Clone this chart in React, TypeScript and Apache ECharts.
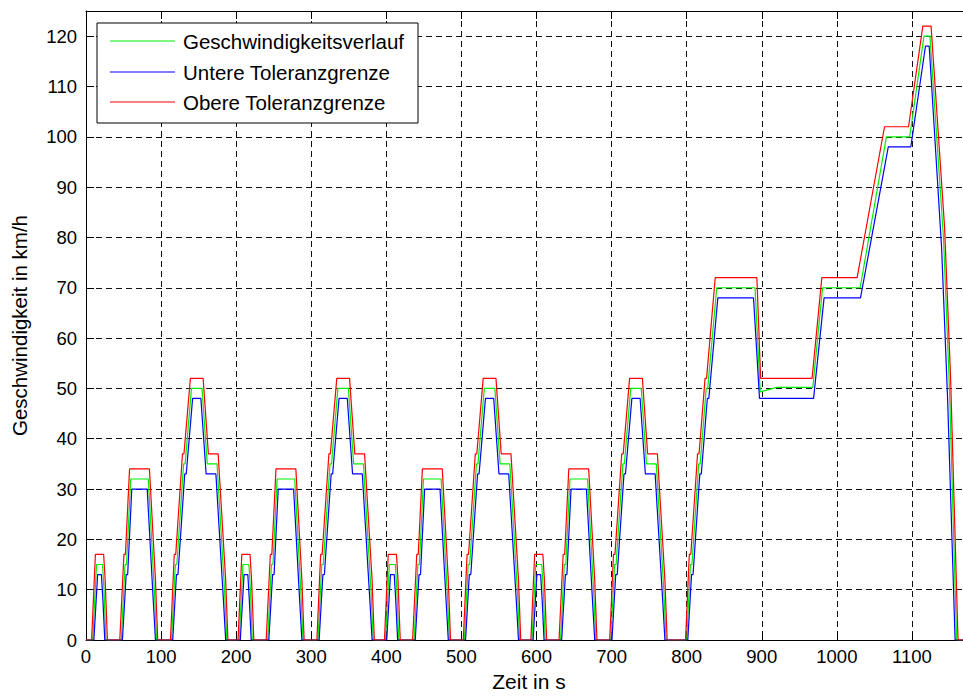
import React, { useEffect, useRef } from "react";
import * as echarts from "echarts";

// ---- One ECE-15 urban cycle (times relative to cycle start, s ; speeds km/h)
const eceTimeSpeed = [0, 9, 14, 22, 24, 26.5, 47, 52, 54, 59.5, 83, 91, 94, 114, 119, 121, 130, 132, 140.5, 154.5, 161.5, 174.5, 184.5, 187.5, 195];
const eceSpeed = [0, 0, 15, 15, 10, 0, 0, 15, 15, 32, 32, 10, 0, 0, 15, 15, 35, 35, 50, 50, 35, 35, 10, 0, 0];

const eceTimeUpper = [0, 7.5, 12.5, 23.5, 25.5, 28.5, 45, 50.5, 52.5, 58, 84.5, 92.5, 95.5, 112.5, 117.5, 119.5, 128.5, 130.5, 139, 156, 163, 176, 186, 189, 195];
const eceUpper = [0, 0, 17, 17, 12, 0, 0, 17, 17, 34, 34, 12, 0, 0, 17, 17, 37, 37, 52, 52, 37, 37, 12, 0, 0];

const eceTimeLower = [0, 10.5, 15.5, 20.5, 22.5, 25, 48.5, 53.5, 55.5, 61, 81.5, 89.5, 92.5, 115.5, 120.5, 122.5, 131.5, 133.5, 142, 153, 160, 173, 183, 186, 195];
const eceLower = [0, 0, 13, 13, 8, 0, 0, 13, 13, 30, 30, 8, 0, 0, 13, 13, 33, 33, 48, 48, 33, 33, 8, 0, 0];

// start times of the four urban cycles
const eceStarts = [0, 195, 390, 585];

// ---- Extra-urban part (absolute times, s)
const eudcTimeSpeed = [780, 800, 805, 807, 816, 818, 826, 828, 840, 891, 898, 903, 920, 968, 981, 1031, 1066, 1097, 1116, 1124, 1142, 1150, 1159.5, 1180];
const eudcSpeed = [0, 0, 15, 15, 35, 35, 50, 50, 70, 70, 49.3, 49.5, 50.2, 50.2, 70, 70, 100, 100, 120, 120, 80, 50, 0, 0];

const eudcTimeUpper = [780, 798.5, 803.5, 805.5, 814.5, 816.5, 824.5, 826.5, 838, 893.5, 898.5, 967, 980, 1027, 1063.5, 1095.5, 1114.5, 1125.5, 1143.5, 1151.5, 1161, 1161.5, 1180];
const eudcUpper = [0, 0, 17, 17, 37, 37, 52, 52, 72, 72, 52, 52, 72, 72, 102, 102, 122, 122, 82, 52, 2, 0, 0];

const eudcTimeLower = [780, 801.5, 806.5, 808.5, 817.5, 819.5, 827.5, 829.5, 841.5, 889, 897, 969, 983, 1031.5, 1068.5, 1098.5, 1118, 1123, 1139.5, 1147.5, 1157.5, 1180];
const eudcLower = [0, 0, 13, 13, 33, 33, 48, 48, 68, 68, 48, 48, 68, 68, 98, 98, 118, 118, 78, 48, 0, 0];

const seriesNames = ["Geschwindigkeitsverlauf", "Untere Toleranzgrenze", "Obere Toleranzgrenze"];
const seriesColors = ["#00ee00", "#0000ff", "#ff0000"];

function buildTrace(cT: number[], cV: number[], eT: number[], eV: number[]) {
  const out: [number, number][] = [];
  eceStarts.forEach((s) => {
    cT.forEach((t, i) => out.push([s + t, cV[i]]));
  });
  eT.forEach((t, i) => out.push([t, eV[i]]));
  return out;
}

const FONT = "'Liberation Sans', Arial, Helvetica, sans-serif";

export default function App() {
  const ref = useRef<HTMLDivElement>(null);
  useEffect(() => {
    if (!ref.current) return;
    const chart = echarts.init(ref.current, undefined, { renderer: "svg" });
    const traces = [
      buildTrace(eceTimeSpeed, eceSpeed, eudcTimeSpeed, eudcSpeed),
      buildTrace(eceTimeLower, eceLower, eudcTimeLower, eudcLower),
      buildTrace(eceTimeUpper, eceUpper, eudcTimeUpper, eudcUpper),
    ];
    const gridLine = { show: true, lineStyle: { color: "#111", type: [6, 4] as any, width: 1 } };

    // legend drawn as graphic elements (MATLAB-style boxed legend)
    const legendX = 97;
    const legendY = 23;
    const rowY = [41, 72, 102];
    const legendChildren: any[] = [
      {
        type: "rect",
        shape: { x: legendX, y: legendY, width: 321, height: 100 },
        style: { fill: "#ffffff", stroke: "#000", lineWidth: 1 },
        z: 100,
      },
    ];
    seriesNames.forEach((n, i) => {
      legendChildren.push({
        type: "line",
        shape: { x1: 110, y1: rowY[i], x2: 175, y2: rowY[i] },
        style: { stroke: seriesColors[i], lineWidth: 1.2 },
        z: 101,
      });
      legendChildren.push({
        type: "text",
        x: 183,
        y: rowY[i],
        style: {
          text: n,
          fontFamily: FONT,
          fontSize: 20.5,
          fill: "#000",
          textAlign: "left",
          textVerticalAlign: "middle",
        },
        z: 101,
      });
    });

    chart.setOption({
      animation: false,
      backgroundColor: "#ffffff",
      grid: { left: 86, top: 11, right: 0, bottom: 55, containLabel: false },
      graphic: legendChildren,
      xAxis: [
        {
          type: "value",
          min: 0,
          max: 1180,
          interval: 100,
          position: "bottom",
          name: "Zeit in s",
          nameLocation: "middle",
          nameGap: 31,
          nameTextStyle: { fontFamily: FONT, fontSize: 21, color: "#000" },
          axisLine: { show: true, onZero: false, lineStyle: { color: "#000", width: 1 } },
          axisTick: { show: true, inside: true, length: 8, lineStyle: { color: "#000" } },
          axisLabel: {
            fontFamily: FONT,
            fontSize: 18.5,
            color: "#000",
            margin: 7,
            showMaxLabel: false,
            formatter: (v: number) => (v % 100 === 0 ? String(v) : ""),
          },
          splitLine: gridLine,
        },
        {
          type: "value",
          min: 0,
          max: 1180,
          interval: 100,
          position: "top",
          axisLine: { show: true, onZero: false, lineStyle: { color: "#000", width: 1 } },
          axisTick: { show: true, inside: true, length: 8, lineStyle: { color: "#000" } },
          axisLabel: { show: false },
          splitLine: { show: false },
        },
      ],
      yAxis: [
        {
          type: "value",
          min: 0,
          max: 125,
          interval: 10,
          name: "Geschwindigkeit in km/h",
          nameLocation: "middle",
          nameGap: 56,
          nameTextStyle: { fontFamily: FONT, fontSize: 20.5, color: "#000" },
          axisLine: { show: true, onZero: false, lineStyle: { color: "#000", width: 1 } },
          axisTick: { show: true, inside: true, length: 8, lineStyle: { color: "#000" } },
          axisLabel: { fontFamily: FONT, fontSize: 18.5, color: "#000", margin: 9, showMaxLabel: false },
          splitLine: gridLine,
        },
      ],
      series: traces.map((d, i) => ({
        name: seriesNames[i],
        type: "line",
        data: d,
        xAxisIndex: 0,
        yAxisIndex: 0,
        showSymbol: false,
        symbol: "none",
        clip: true,
        lineStyle: { color: seriesColors[i], width: 1.2 },
        itemStyle: { color: seriesColors[i] },
        z: 2 + i,
      })),
    });
    return () => chart.dispose();
  }, []);
  return (
    <div
      style={{
        position: "fixed",
        left: 0,
        top: 0,
        width: 963,
        height: 697,
        overflow: "hidden",
        background: "#fff",
      }}
    >
      <div ref={ref} style={{ position: "absolute", left: 0, top: 0, width: 972, height: 697 }} />
    </div>
  );
}
